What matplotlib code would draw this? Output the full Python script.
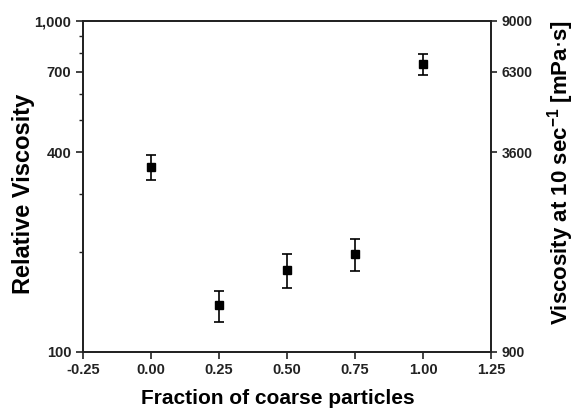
import matplotlib
matplotlib.use('Agg')
import matplotlib.pyplot as plt
from matplotlib.ticker import FixedLocator, FixedFormatter, LogLocator, NullFormatter, NullLocator

plt.rcParams['font.family'] = ['Liberation Sans', 'DejaVu Sans']

# данные
fraction = [0.0, 0.25, 0.50, 0.75, 1.00]
rel_visc = [362, 138, 177, 197, 740]
rel_err = [32, 15, 21, 22, 54]

left_ticks = [100, 400, 700, 1000]
left_labels = ['100', '400', '700', '1,000']
right_ticks = [900, 3600, 6300, 9000]
right_labels = ['900', '3600', '6300', '9000']
x_ticks = [-0.25, 0.0, 0.25, 0.50, 0.75, 1.00, 1.25]
x_labels = ['-0.25', '0.00', '0.25', '0.50', '0.75', '1.00', '1.25']

fig = plt.figure(figsize=(5.75, 4.11), dpi=100)
ax = fig.add_axes([0.1443, 0.1443, 0.7097, 0.8053])

ax.errorbar(fraction, rel_visc, yerr=rel_err, fmt='s', color='black',
            markersize=5.5, capsize=3.5, elinewidth=1.2, capthick=1.2)

ax.set_yscale('log')
ax.set_ylim(100, 1000)
ax.set_xlim(-0.25, 1.25)
ax.yaxis.set_major_locator(FixedLocator(left_ticks))
ax.yaxis.set_major_formatter(FixedFormatter(left_labels))
ax.yaxis.set_minor_locator(LogLocator(base=10, subs=[2, 3, 5, 6, 8, 9]))
ax.yaxis.set_minor_formatter(NullFormatter())
ax.set_xticks(x_ticks)
ax.set_xticklabels(x_labels)

for sp in ax.spines.values():
    sp.set_linewidth(1.3)
    sp.set_color('#222222')

ax.tick_params(axis='both', which='major', length=5, width=1.2,
               labelsize=10.5, colors='#222222')
ax.tick_params(axis='y', which='minor', length=3, width=1.0, colors='#222222')
for lab in ax.get_xticklabels() + ax.get_yticklabels():
    lab.set_fontweight('bold')

ax.set_xlabel('Fraction of coarse particles', fontsize=15, fontweight='bold')
ax.xaxis.set_label_coords(0.477, -0.112)
ax.set_ylabel('Relative Viscosity', fontsize=17, fontweight='bold')
ax.yaxis.set_label_coords(-0.118, 0.476)

ax2 = ax.twinx()
ax2.set_yscale('log')
ax2.set_ylim(900, 9000)
ax2.yaxis.set_major_locator(FixedLocator(right_ticks))
ax2.yaxis.set_major_formatter(FixedFormatter(right_labels))
ax2.yaxis.set_minor_locator(NullLocator())
ax2.tick_params(axis='y', which='major', length=4, width=1.2,
                labelsize=10, colors='#222222')
for lab in ax2.get_yticklabels():
    lab.set_fontweight('bold')
for sp in ax2.spines.values():
    sp.set_linewidth(1.3)
    sp.set_color('#222222')
ax2.set_ylabel(r'Viscosity at 10 sec$\mathregular{^{-1}}$ [mPa$\cdot$s]',
               fontsize=16, fontweight='bold')
ax2.yaxis.set_label_coords(1.132, 0.54)

fig.savefig('out.png', dpi=100)
